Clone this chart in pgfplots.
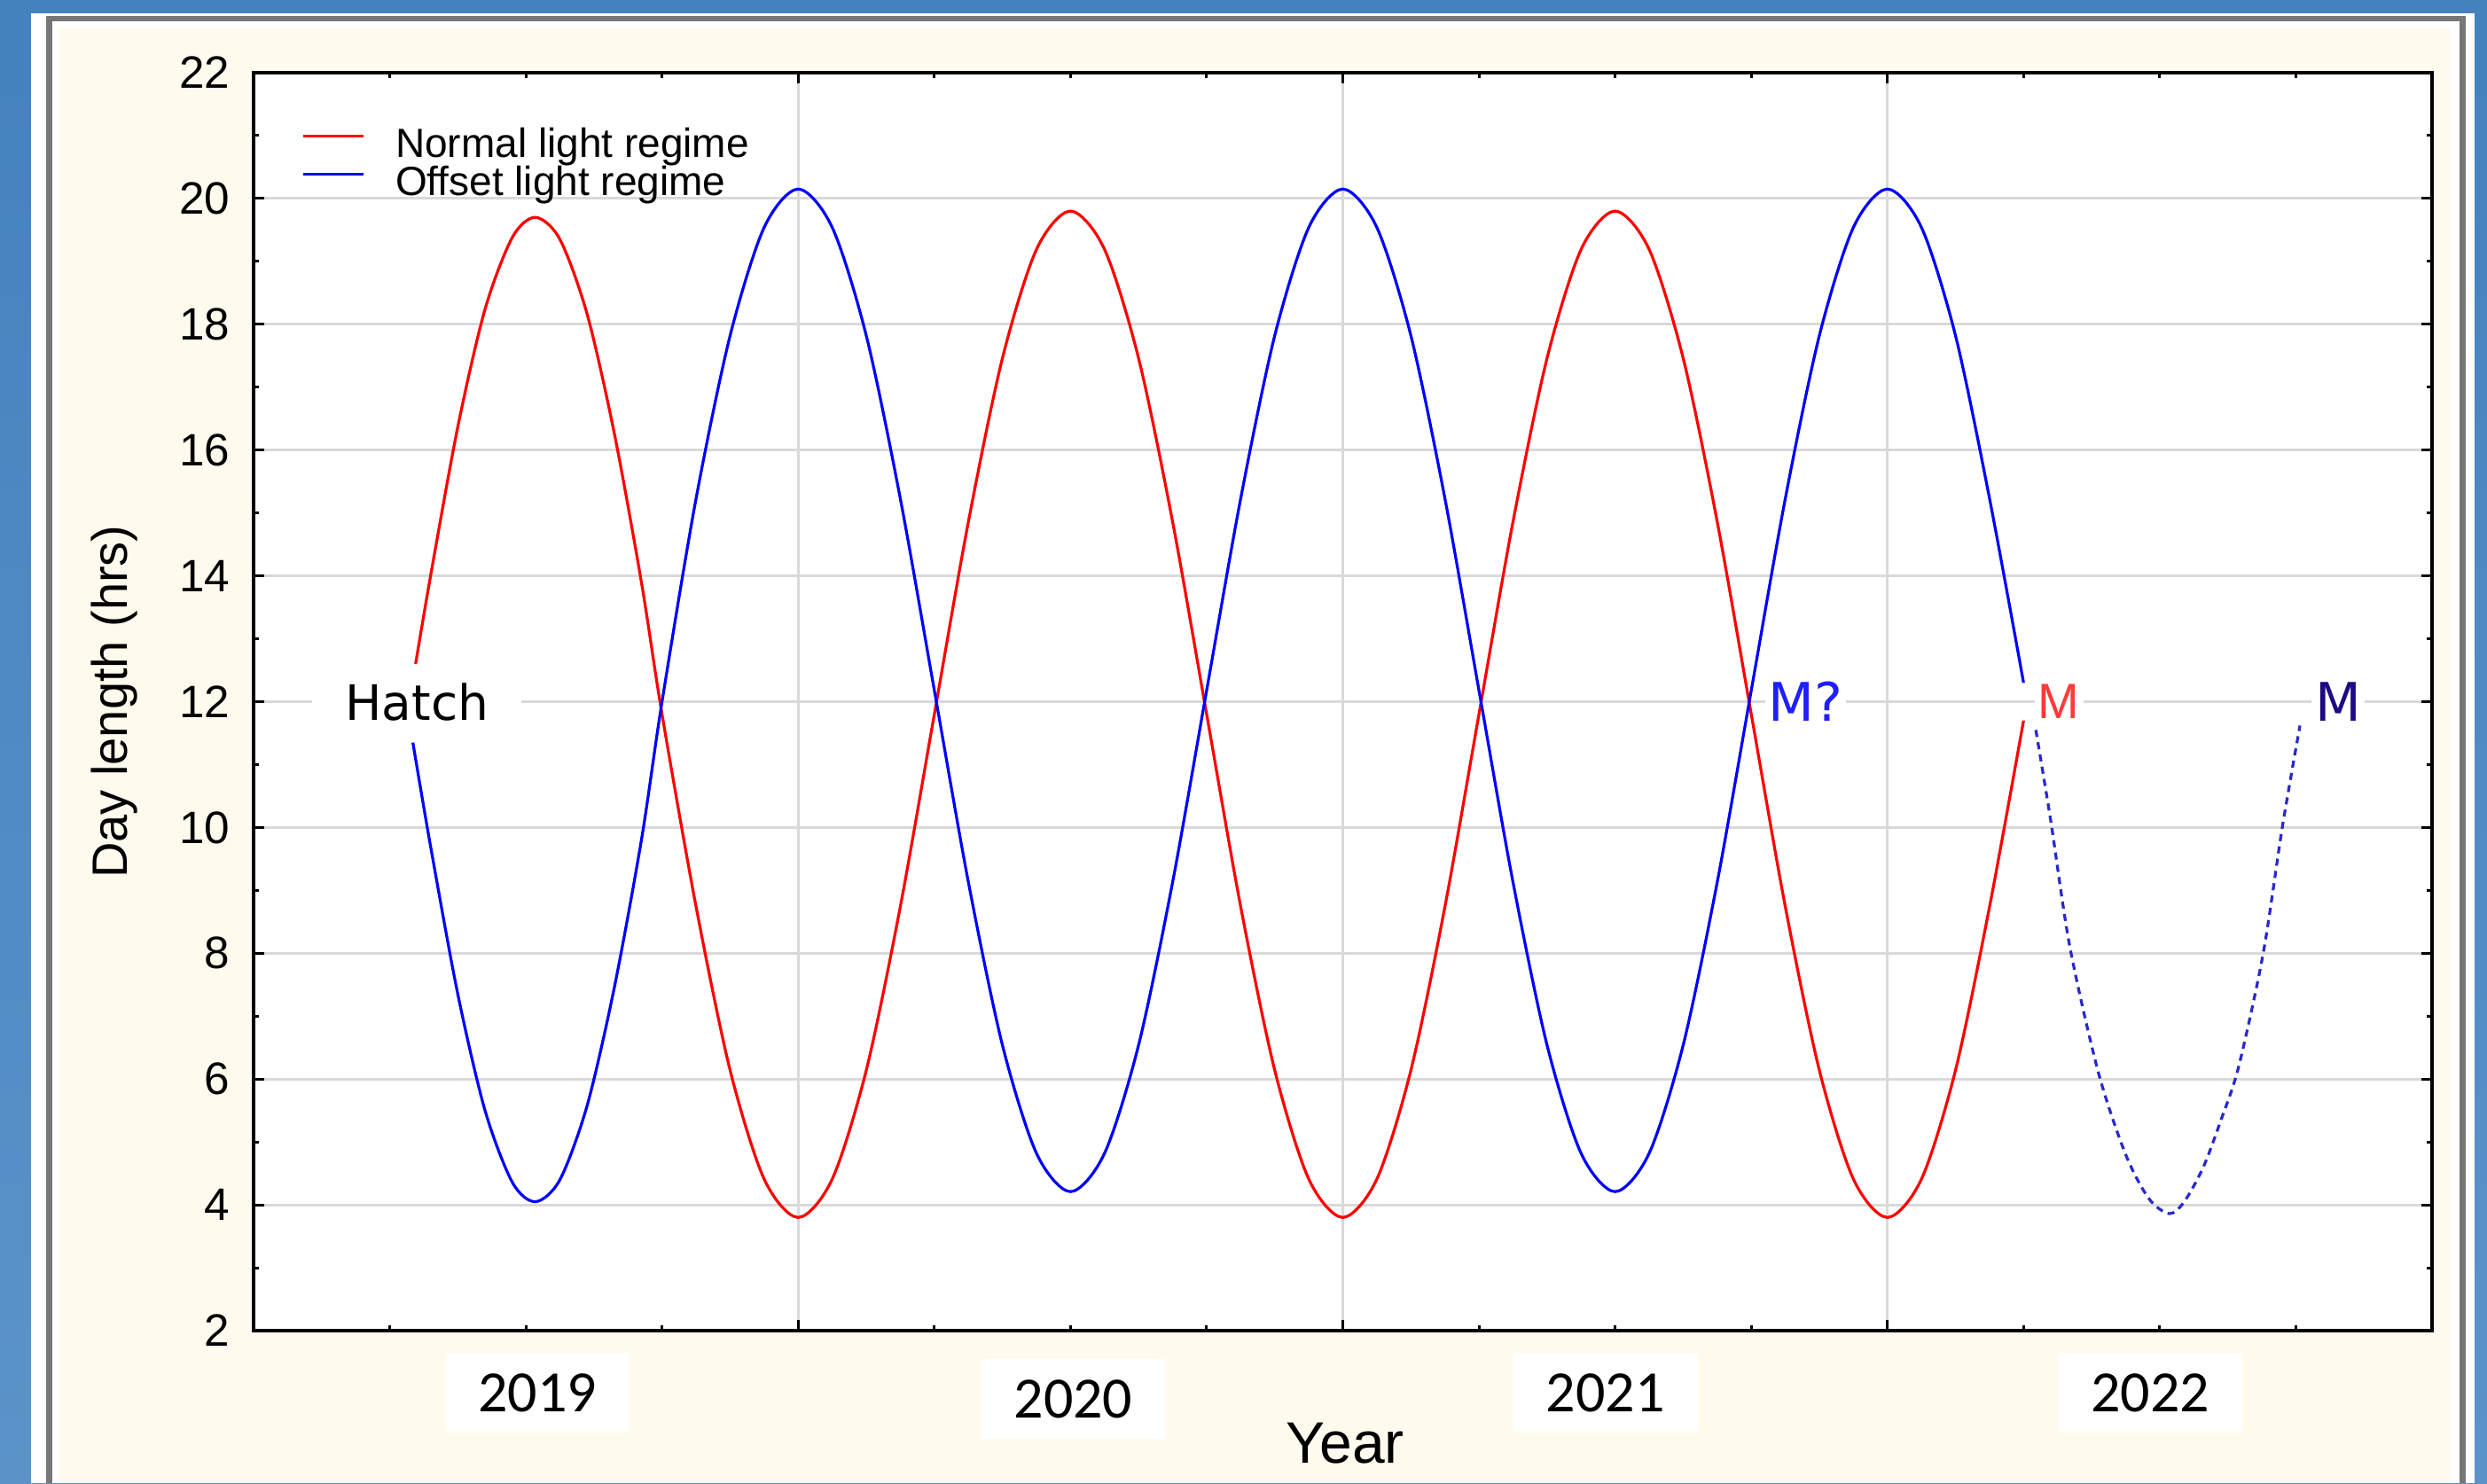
\documentclass[border=0pt]{standalone}
\usepackage{fontspec}
\setmainfont{Liberation Sans}
\newfontfamily\yearfont{Carlito}
\newfontfamily\dvs{DejaVu Sans}
\usepackage{pgfplots}
\pgfplotsset{compat=1.18}
\definecolor{frameblue}{HTML}{4482BE}
\definecolor{frameblue2}{HTML}{5B93C9}
\definecolor{cream}{HTML}{FFFAEE}
\definecolor{framegray}{HTML}{777777}
\definecolor{gridgray}{HTML}{D9D9D9}
\definecolor{navyM}{RGB}{30,10,130}
\definecolor{redM}{HTML}{FF3A3A}
\definecolor{blueM}{HTML}{1E1EFF}
\definecolor{dashblue}{RGB}{40,40,205}
\begin{document}
\begin{tikzpicture}
\useasboundingbox (0,0) rectangle (701.25pt,418.25pt);
\shade[top color=frameblue, bottom color=frameblue2] (0,0) rectangle (701.25pt,418.25pt);
\fill[white] (8.75pt,0) rectangle (697.75pt,414.5pt);
\fill[framegray] (13pt,0) rectangle (695.25pt,413.75pt);
\fill[white] (14.75pt,0) rectangle (693.5pt,412.25pt);
\fill[cream] (16.5pt,0) rectangle (690.75pt,410.25pt);
\begin{axis}[
  at={(71.5pt,43pt)}, anchor=south west,
  scale only axis, width=614.25pt, height=354.75pt,
  xmin=0, xmax=16, ymin=2, ymax=22,
  clip=false,
  axis background/.style={fill=white},
  xtick={4,8,12}, xticklabels={},
  minor xtick={1,2,3,5,6,7,9,10,11,13,14,15},
  ytick={2,4,...,22}, minor ytick={3,5,...,21},
  xmajorgrids, ymajorgrids,
  grid style={gridgray, line width=0.75pt},
  tick align=inside,
  major tick length=3pt, minor tick length=1.5pt,
  every tick/.style={black, line width=0.75pt},
  axis line style={line width=1pt},
  /pgf/number format/assume math mode=true,
  yticklabel style={font=\fontsize{12.8}{15}\selectfont, inner sep=0pt, anchor=east, xshift=-6.5pt},
  ylabel={Day length (hrs)},
  ylabel style={at={(axis description cs:-0.0639,0.5)}, anchor=center, font=\fontsize{14}{16}\selectfont},
  xlabel={Year},
  xlabel style={at={(axis description cs:0.501,-0.0895)}, anchor=center, font=\fontsize{16.5}{18}\selectfont},
  legend style={at={(axis description cs:0.022,0.9556)}, anchor=north west, draw=none, fill=none,
    inner sep=0pt, row sep=0pt, font=\fontsize{11.5}{13}\selectfont,
    nodes={inner sep=0pt, text height=8pt, text depth=2.75pt},
    /tikz/every odd column/.append style={column sep=8.5pt}},
  legend cell align=left,
  legend image code/.code={\draw[#1] (0pt,3.5pt) -- (17pt,3.5pt);},
]
\addplot[red, line width=0.8pt, smooth] coordinates {
(1.19,12.6) (1.3,14.0) (1.5,16.37) (1.7,18.24) (1.9,19.38) (2.07,19.7) (2.25,19.35) (2.45,18.16) (2.65,16.26) (2.85,13.88)
(3.0,11.8) (3.25,8.74) (3.5,6.14) (3.75,4.41) (4,3.8) (4.25,4.41) (4.5,6.14) (4.75,8.74) (5,11.8) (5.25,14.86) (5.5,17.46) (5.75,19.19)
(6,19.8) (6.25,19.19) (6.5,17.46) (6.75,14.86) (7,11.8) (7.25,8.74) (7.5,6.14) (7.75,4.41) (8,3.8) (8.25,4.41) (8.5,6.14) (8.75,8.74)
(9,11.8) (9.25,14.86) (9.5,17.46) (9.75,19.19) (10,19.8) (10.25,19.19) (10.5,17.46) (10.75,14.86) (11,11.8) (11.25,8.74) (11.5,6.14)
(11.75,4.41) (12,3.8) (12.25,4.41) (12.5,6.14) (12.75,8.74) (13,11.7)
};
\addlegendentry{Normal light regime}
\addplot[blue, line width=0.8pt, smooth] coordinates {
(1.17,11.35) (1.3,9.7) (1.5,7.35) (1.7,5.5) (1.9,4.36) (2.07,4.05) (2.25,4.4) (2.45,5.58) (2.65,7.46) (2.85,9.82)
(3.0,12.0) (3.25,15.23) (3.5,17.82) (3.75,19.54) (4,20.15) (4.25,19.54) (4.5,17.82) (4.75,15.23) (5,12.18) (5.25,9.13) (5.5,6.54) (5.75,4.82)
(6,4.21) (6.25,4.82) (6.5,6.54) (6.75,9.13) (7,12.18) (7.25,15.23) (7.5,17.82) (7.75,19.54) (8,20.15) (8.25,19.54) (8.5,17.82) (8.75,15.23)
(9,12.18) (9.25,9.13) (9.5,6.54) (9.75,4.82) (10,4.21) (10.25,4.82) (10.5,6.54) (10.75,9.13) (11,12.18) (11.25,15.23) (11.5,17.82)
(11.75,19.54) (12,20.15) (12.25,19.54) (12.5,17.82) (12.75,15.23) (13,12.3)
};
\addlegendentry{Offset light regime}
\addplot[dashblue, line width=0.8pt, dash pattern=on 2pt off 1.5pt, smooth, forget plot] coordinates {
(13.09,11.55) (13.2,10.1) (13.34,8.1) (13.55,6.1) (13.75,4.8) (13.92,4.1) (14.07,3.86) (14.18,4.05) (14.32,4.6) (14.45,5.35) (14.58,6.2) (14.76,8.0) (14.9,10) (15.03,11.62)
};
\node[fill=white, minimum width=59pt, minimum height=18pt, inner sep=0pt, font=\dvs\fontsize{13.75}{16}\selectfont] at (axis cs:1.20,12) {Hatch};
\node[fill=white, inner sep=1pt, text=blueM, font=\dvs\fontsize{15}{17}\selectfont] at (axis cs:11.40,12) {M?};
\node[fill=white, inner sep=1pt, text=redM, font=\fontsize{14}{16}\selectfont] at (axis cs:13.26,12) {M};
\node[fill=white, inner sep=1pt, text=navyM, font=\dvs\fontsize{15}{17}\selectfont] at (axis cs:15.31,12) {M};
\node[fill=white, minimum width=51.9pt, minimum height=22.4pt, inner sep=0pt, font=\yearfont\fontsize{16.5}{18}\selectfont] at (axis cs:2.086,1.01) {2019};
\node[fill=white, minimum width=51.9pt, minimum height=22.4pt, inner sep=0pt, font=\yearfont\fontsize{16.5}{18}\selectfont] at (axis cs:6.02,0.915) {2020};
\node[fill=white, minimum width=51.9pt, minimum height=22.4pt, inner sep=0pt, font=\yearfont\fontsize{16.5}{18}\selectfont] at (axis cs:9.93,1.01) {2021};
\node[fill=white, minimum width=51.9pt, minimum height=22.4pt, inner sep=0pt, font=\yearfont\fontsize{16.5}{18}\selectfont] at (axis cs:13.93,1.01) {2022};
\end{axis}
\end{tikzpicture}
\end{document}
